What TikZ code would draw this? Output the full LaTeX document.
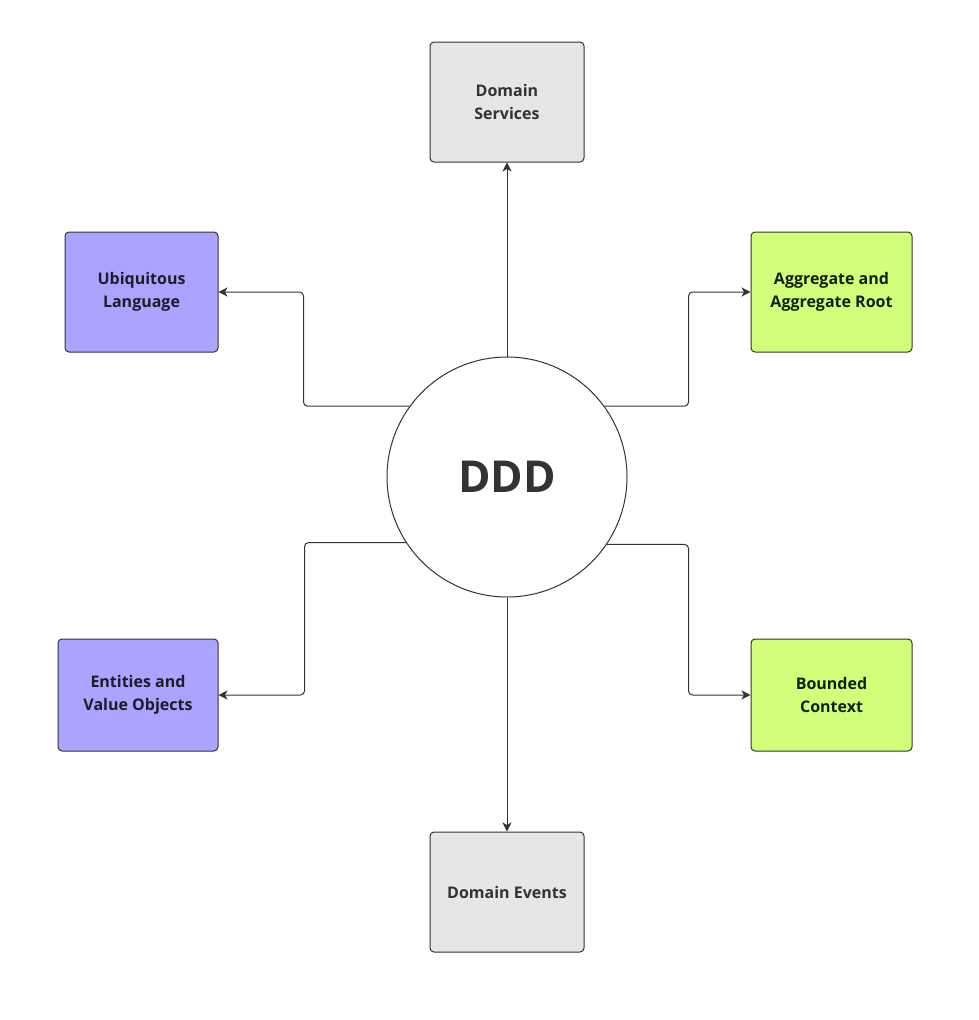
\documentclass[tikz,border=0pt]{standalone}
\usepackage{fontspec}
\setmainfont{Open Sans}
\usetikzlibrary{arrows.meta}
\definecolor{lineC}{HTML}{333333}
\definecolor{txtC}{HTML}{333333}
\definecolor{grayF}{HTML}{E6E6E6}
\definecolor{purpF}{HTML}{AAA3FF}
\definecolor{greenF}{HTML}{D1FF7A}
\tikzset{
  box/.style={draw=lineC, line width=1pt, rounded corners=4pt, minimum width=#1, minimum height=120pt, inner sep=0pt,
    align=center, font=\fontsize{16}{23}\selectfont\bfseries, text=txtC},
  graybox/.style={box=154pt, fill=grayF},
  purpbox/.style={box=153pt, fill=purpF, text=txtC!80!purpF!40!black},
  greenbox/.style={box=161pt, fill=greenF, text=txtC!85!green!40!black},
  conn/.style={draw=lineC, line width=1pt, rounded corners=4pt, -{Stealth[length=9pt,width=9pt,inset=2.5pt]}},
}
\begin{document}
\begin{tikzpicture}[x=1pt,y=-1pt]
\useasboundingbox[fill=white] (0,0) rectangle (979,1020);
\node[circle, draw=lineC, line width=1pt, fill=white, minimum size=240pt, inner sep=0pt,
  font=\fontsize{44}{50}\selectfont\bfseries, text=txtC] (ddd) at (507,477) {DDD};
\node[graybox] (ds) at (507,102) {Domain\\Services};
\node[purpbox] (ul) at (141.5,292) {Ubiquitous\\Language};
\node[greenbox] (ag) at (831.5,292) {Aggregate and\\Aggregate Root};
\node[purpbox, minimum width=160pt, minimum height=112pt] (ev) at (138,695) {Entities and\\Value Objects};
\node[greenbox, minimum height=112pt] (bc) at (831.5,695) {Bounded\\Context};
\node[graybox] (de) at (507,892) {Domain Events};
\draw[conn] (ddd.north) -- (ds.south);
\draw[conn] (ddd.south) -- (de.north);
\draw[conn] (ddd.144.3) -- ([xshift=85pt]ul.east |- ddd.144.3) |- (ul.east);
\draw[conn] (ddd.36.9) -- ([xshift=-62pt]ag.west |- ddd.36.9) |- (ag.west);
\draw[conn] (ddd.213.4) -- ([xshift=86pt]ev.east |- ddd.213.4) |- (ev.east);
\draw[conn] (ddd.-34) -- ([xshift=-62pt]bc.west |- ddd.-34) |- (bc.west);
\end{tikzpicture}
\end{document}
